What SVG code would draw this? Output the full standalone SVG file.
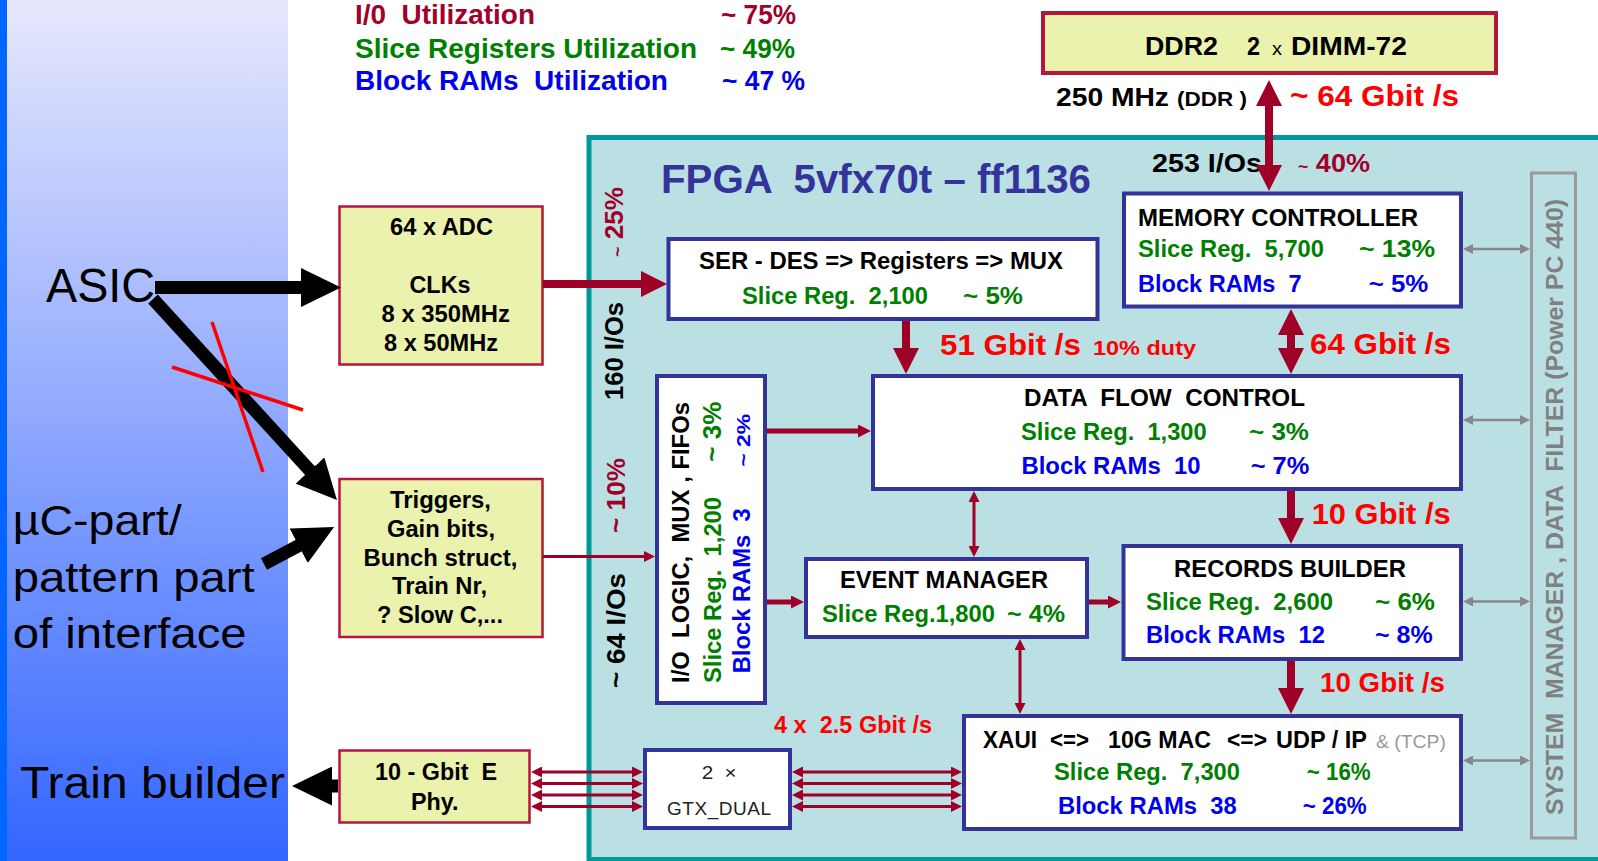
<svg xmlns="http://www.w3.org/2000/svg" width="1598" height="861" viewBox="0 0 1598 861" xml:space="preserve">
<defs>
<linearGradient id="panelGrad" x1="0" y1="0" x2="0" y2="1"><stop offset="0" stop-color="#E7E8FD"/><stop offset="1" stop-color="#3366FF"/></linearGradient>
<marker id="mBig" viewBox="0 0 26 26" markerWidth="26" markerHeight="26" refX="12" refY="13" markerUnits="userSpaceOnUse" orient="auto-start-reverse"><path d="M0,0 L26,13 L0,26 z" fill="#9E0028"/></marker>
<marker id="mMed" viewBox="0 0 13 13" markerWidth="13" markerHeight="13" refX="5" refY="6.5" markerUnits="userSpaceOnUse" orient="auto-start-reverse"><path d="M0,0 L13,6.5 L0,13 z" fill="#9E0028"/></marker>
<marker id="mSm" viewBox="0 0 11 11" markerWidth="11" markerHeight="11" refX="4" refY="5.5" markerUnits="userSpaceOnUse" orient="auto-start-reverse"><path d="M0,0 L11,5.5 L0,11 z" fill="#9E0028"/></marker>
<marker id="mGray" viewBox="0 0 10 10" markerWidth="10" markerHeight="10" refX="4" refY="5" markerUnits="userSpaceOnUse" orient="auto-start-reverse"><path d="M0,0 L10,5 L0,10 z" fill="#888888"/></marker>
<marker id="mBlk" viewBox="0 0 40 39" markerWidth="40" markerHeight="39" refX="18" refY="19.5" markerUnits="userSpaceOnUse" orient="auto-start-reverse"><path d="M0,0 L40,19.5 L0,39 z" fill="#000000"/></marker>
</defs>
<style>
text{font-family:"Liberation Sans",Arial,Helvetica,sans-serif;fill:#000;white-space:pre}
.b{font-weight:bold}
.g{fill:#008000}
.u{fill:#0000EE}
.r{fill:#FF0000}
.dr{fill:#A0002A}
.gr{fill:#808080}
.f23{font-size:23px}
.f25{font-size:25px}
.f26{font-size:26px}
.f27{font-size:27px}
.f30{font-size:30px}
.yb{fill:#EAF2AE;stroke:#B4163C;stroke-width:2.5}
.wb{fill:#FFFFFF;stroke:#333399;stroke-width:4}
.c8{stroke:#9E0028;stroke-width:8;fill:none}
.c5{stroke:#9E0028;stroke-width:5;fill:none}
.c3{stroke:#9E0028;stroke-width:3;fill:none}
.cg{stroke:#888888;stroke-width:2.5;fill:none}
.ck{stroke:#000000;stroke-width:13;fill:none}
</style>

<g id="background">
<rect x="0" y="0" width="1598" height="861" fill="#FFFFFF"/>
<rect x="7" y="0" width="281" height="861" fill="url(#panelGrad)"/>
<rect x="0" y="0" width="7" height="861" fill="#0066FF"/>
</g>

<g id="legend">
<text class="b dr f27" x="355" y="24" textLength="180" lengthAdjust="spacingAndGlyphs">I/0  Utilization</text>
<text class="b g f27" x="355" y="58" textLength="342" lengthAdjust="spacingAndGlyphs">Slice Registers Utilization</text>
<text class="b u f27" x="355" y="90" textLength="313" lengthAdjust="spacingAndGlyphs">Block RAMs  Utilization</text>
<text class="b dr f27" x="721" y="24" textLength="75" lengthAdjust="spacingAndGlyphs">~ 75%</text>
<text class="b g f27" x="720" y="58" textLength="75" lengthAdjust="spacingAndGlyphs">~ 49%</text>
<text class="b u f27" x="722" y="90" textLength="83" lengthAdjust="spacingAndGlyphs">~ 47 %</text>
</g>

<g id="fpga">
<rect x="589" y="137.5" width="1100" height="722" fill="#BBE0E3" stroke="#009999" stroke-width="5"/>
<text class="b" x="661" y="193" font-size="40" style="fill:#333399" textLength="430" lengthAdjust="spacingAndGlyphs">FPGA  5vfx70t – ff1136</text>
<text class="b dr f25" transform="translate(623,257) rotate(-90)" textLength="70" lengthAdjust="spacingAndGlyphs"><tspan font-size="17">~</tspan> 25%</text>
<text class="b f25" transform="translate(623,400) rotate(-90)" textLength="98" lengthAdjust="spacingAndGlyphs">160 I/Os</text>
<text class="b dr f25" transform="translate(625,533) rotate(-90)" textLength="75" lengthAdjust="spacingAndGlyphs">~ 10%</text>
<text class="b f25" transform="translate(625,688) rotate(-90)" textLength="115" lengthAdjust="spacingAndGlyphs">~ 64 I/Os</text>
<text class="b f26" x="1152" y="172" textLength="110" lengthAdjust="spacingAndGlyphs">253 I/Os</text>
<text class="b dr f26" x="1298" y="172" textLength="72" lengthAdjust="spacingAndGlyphs"><tspan font-size="17">~</tspan> 40%</text>
</g>

<g id="ddr2">
<rect x="1043" y="13" width="453" height="60" fill="#EAF2AE" stroke="#B4163C" stroke-width="4"/>
<text class="b f26" x="1145" y="55" textLength="73" lengthAdjust="spacingAndGlyphs">DDR2</text>
<text class="b f26" x="1247" y="55" textLength="13" lengthAdjust="spacingAndGlyphs">2</text>
<text x="1272" y="55" font-size="18" textLength="10" lengthAdjust="spacingAndGlyphs">x</text>
<text class="b f26" x="1291" y="55" textLength="116" lengthAdjust="spacingAndGlyphs">DIMM-72</text>
<text class="b f26" x="1056" y="106" textLength="113" lengthAdjust="spacingAndGlyphs">250 MHz</text>
<text class="b" x="1177" y="106" font-size="20" textLength="70" lengthAdjust="spacingAndGlyphs">(DDR )</text>
<text class="b r f30" x="1290" y="106" textLength="169" lengthAdjust="spacingAndGlyphs">~ 64 Gbit /s</text>
</g>

<g id="adc">
<rect class="yb" x="339.5" y="206.5" width="203" height="158"/>
<text class="b f23" x="390" y="235" textLength="103" lengthAdjust="spacingAndGlyphs">64 x ADC</text>
<text class="b f23" x="409.5" y="293" textLength="61" lengthAdjust="spacingAndGlyphs">CLKs</text>
<text class="b f23" x="381.5" y="321.7" textLength="128.5" lengthAdjust="spacingAndGlyphs">8 x 350MHz</text>
<text class="b f23" x="384" y="350.7" textLength="114" lengthAdjust="spacingAndGlyphs">8 x 50MHz</text>
</g>

<g id="triggers">
<rect class="yb" x="339.5" y="479" width="203" height="158"/>
<text class="b f23" x="390" y="508.3" textLength="101" lengthAdjust="spacingAndGlyphs">Triggers,</text>
<text class="b f23" x="387" y="536.7" textLength="108" lengthAdjust="spacingAndGlyphs">Gain bits,</text>
<text class="b f23" x="363.6" y="566" textLength="153.8" lengthAdjust="spacingAndGlyphs">Bunch struct,</text>
<text class="b f23" x="392" y="594.3" textLength="95" lengthAdjust="spacingAndGlyphs">Train Nr,</text>
<text class="b f23" x="377" y="623.3" textLength="126" lengthAdjust="spacingAndGlyphs">? Slow C,...</text>
</g>

<g id="phy">
<rect class="yb" x="339.5" y="750.5" width="190" height="72"/>
<text class="b f23" x="375" y="780" textLength="122" lengthAdjust="spacingAndGlyphs">10 - Gbit  E</text>
<text class="b f23" x="411" y="810" textLength="47.5" lengthAdjust="spacingAndGlyphs">Phy.</text>
</g>

<g id="serdes">
<rect class="wb" x="668.5" y="239" width="429" height="80"/>
<text class="b f23" x="699" y="269" textLength="364" lengthAdjust="spacingAndGlyphs">SER - DES =&gt; Registers =&gt; MUX</text>
<text class="b g f23" x="742" y="304" textLength="186" lengthAdjust="spacingAndGlyphs">Slice Reg.  2,100</text>
<text class="b g f23" x="963" y="304" textLength="60" lengthAdjust="spacingAndGlyphs">~ 5%</text>
</g>

<g id="memctrl">
<rect class="wb" x="1124" y="193.5" width="337" height="113"/>
<text class="b f23" x="1138" y="226" textLength="280" lengthAdjust="spacingAndGlyphs">MEMORY CONTROLLER</text>
<text class="b g f23" x="1138" y="257" textLength="186" lengthAdjust="spacingAndGlyphs">Slice Reg.  5,700</text>
<text class="b g f23" x="1359" y="257" textLength="76" lengthAdjust="spacingAndGlyphs">~ 13%</text>
<text class="b u f23" x="1138" y="291.7" textLength="163.6" lengthAdjust="spacingAndGlyphs">Block RAMs  7</text>
<text class="b u f23" x="1368.7" y="291.7" textLength="59.7" lengthAdjust="spacingAndGlyphs">~ 5%</text>
</g>

<g id="iologic">
<rect class="wb" x="657" y="376" width="108" height="327"/>
<text class="b f23" transform="translate(689,683) rotate(-90)" textLength="281" lengthAdjust="spacingAndGlyphs">I/O  LOGIC,  MUX , FIFOs</text>
<text class="b g f23" transform="translate(721,683) rotate(-90)" textLength="186" lengthAdjust="spacingAndGlyphs">Slice Reg.  1,200</text>
<text class="b g f25" transform="translate(721,461.7) rotate(-90)" textLength="60" lengthAdjust="spacingAndGlyphs">~ 3%</text>
<text class="b u f23" transform="translate(750,673.3) rotate(-90)" textLength="165" lengthAdjust="spacingAndGlyphs">Block RAMs  3</text>
<text class="b u" font-size="19" transform="translate(750,466.7) rotate(-90)" textLength="53" lengthAdjust="spacingAndGlyphs">~ 2%</text>
</g>

<g id="dataflow">
<rect class="wb" x="873" y="376" width="588" height="113"/>
<text class="b f23" x="1024" y="406" textLength="281" lengthAdjust="spacingAndGlyphs">DATA  FLOW  CONTROL</text>
<text class="b g f23" x="1021" y="440" textLength="185.7" lengthAdjust="spacingAndGlyphs">Slice Reg.  1,300</text>
<text class="b g f23" x="1249" y="440" textLength="60" lengthAdjust="spacingAndGlyphs">~ 3%</text>
<text class="b u f23" x="1021.5" y="473.5" textLength="179" lengthAdjust="spacingAndGlyphs">Block RAMs  10</text>
<text class="b u f23" x="1250.7" y="473.5" textLength="58.6" lengthAdjust="spacingAndGlyphs">~ 7%</text>
</g>

<g id="eventmgr">
<rect class="wb" x="806" y="559" width="281" height="78"/>
<text class="b f23" x="840" y="588" textLength="208" lengthAdjust="spacingAndGlyphs">EVENT MANAGER</text>
<text class="b g f23" x="822" y="621.7" textLength="173" lengthAdjust="spacingAndGlyphs">Slice Reg.1,800</text>
<text class="b g f23" x="1007" y="621.7" textLength="58" lengthAdjust="spacingAndGlyphs">~ 4%</text>
</g>

<g id="records">
<rect class="wb" x="1123.5" y="546" width="337.5" height="113"/>
<text class="b f23" x="1174" y="577" textLength="232" lengthAdjust="spacingAndGlyphs">RECORDS BUILDER</text>
<text class="b g f23" x="1146" y="610" textLength="187" lengthAdjust="spacingAndGlyphs">Slice Reg.  2,600</text>
<text class="b g f23" x="1375" y="610" textLength="60" lengthAdjust="spacingAndGlyphs">~ 6%</text>
<text class="b u f23" x="1146" y="643" textLength="179" lengthAdjust="spacingAndGlyphs">Block RAMs  12</text>
<text class="b u f23" x="1375" y="643" textLength="57.7" lengthAdjust="spacingAndGlyphs">~ 8%</text>
</g>

<g id="xaui">
<rect class="wb" x="964" y="716" width="497" height="113"/>
<text class="b f23" x="983" y="747.5" textLength="54" lengthAdjust="spacingAndGlyphs">XAUI</text>
<text class="b f23" x="1050" y="747.5" textLength="39" lengthAdjust="spacingAndGlyphs">&lt;=&gt;</text>
<text class="b f23" x="1108" y="747.5" textLength="103" lengthAdjust="spacingAndGlyphs">10G MAC</text>
<text class="b f23" x="1227" y="747.5" textLength="40" lengthAdjust="spacingAndGlyphs">&lt;=&gt;</text>
<text class="b f23" x="1276" y="747.5" textLength="91" lengthAdjust="spacingAndGlyphs">UDP / IP</text>
<text x="1376" y="747.5" font-size="18" style="fill:#999999" textLength="70" lengthAdjust="spacingAndGlyphs">&amp; (TCP)</text>
<text class="b g f23" x="1054" y="780" textLength="186" lengthAdjust="spacingAndGlyphs">Slice Reg.  7,300</text>
<text class="b g f23" x="1306.7" y="780" textLength="64" lengthAdjust="spacingAndGlyphs">~ 16%</text>
<text class="b u f23" x="1058" y="813.5" textLength="178.7" lengthAdjust="spacingAndGlyphs">Block RAMs  38</text>
<text class="b u f23" x="1302.7" y="813.5" textLength="64" lengthAdjust="spacingAndGlyphs">~ 26%</text>
</g>

<g id="gtx">
<rect class="wb" x="645" y="750" width="145" height="78"/>
<text x="701.7" y="779.3" font-size="19" style="fill:#222222" textLength="35" lengthAdjust="spacingAndGlyphs">2  ×</text>
<text x="667" y="815" font-size="19" style="fill:#222222" textLength="104" lengthAdjust="spacing">GTX_DUAL</text>
</g>

<g id="sysmgr">
<rect x="1531.5" y="173" width="44" height="665" fill="none" stroke="#9A9A9A" stroke-width="3"/>
<text class="b gr f23" transform="translate(1563,815) rotate(-90)" textLength="616" lengthAdjust="spacingAndGlyphs">SYSTEM  MANAGER , DATA  FILTER (Power PC 440)</text>
</g>

<g id="external-labels">
<text x="46" y="302" font-size="49" textLength="109" lengthAdjust="spacingAndGlyphs">ASIC</text>
<text x="12.7" y="535" font-size="42" textLength="169" lengthAdjust="spacingAndGlyphs">µC-part/</text>
<text x="12.7" y="591.7" font-size="42" textLength="242" lengthAdjust="spacingAndGlyphs">pattern part</text>
<text x="12.7" y="648.3" font-size="42" textLength="234" lengthAdjust="spacingAndGlyphs">of interface</text>
<text x="20" y="798" font-size="44" textLength="265" lengthAdjust="spacingAndGlyphs">Train builder</text>
</g>

<g id="connector-labels">
<text class="b r f30" x="940" y="355" textLength="141" lengthAdjust="spacingAndGlyphs">51 Gbit /s</text>
<text class="b r" x="1093" y="355" font-size="21" textLength="103" lengthAdjust="spacingAndGlyphs">10% duty</text>
<text class="b r f30" x="1310" y="354" textLength="141" lengthAdjust="spacingAndGlyphs">64 Gbit /s</text>
<text class="b r f30" x="1311.7" y="524" textLength="139" lengthAdjust="spacingAndGlyphs">10 Gbit /s</text>
<text class="b r f27" x="1320" y="691.7" textLength="125" lengthAdjust="spacingAndGlyphs">10 Gbit /s</text>
<text class="b r f23" x="774" y="733.3" textLength="158" lengthAdjust="spacingAndGlyphs">4 x  2.5 Gbit /s</text>
</g>

<g id="connectors">
<g class="c8">
<line x1="543" y1="284" x2="653" y2="284" marker-end="url(#mBig)"/>
<line x1="1269" y1="94" x2="1269" y2="177" marker-start="url(#mBig)" marker-end="url(#mBig)"/>
<line x1="906" y1="321" x2="906" y2="360" marker-end="url(#mBig)"/>
<line x1="1291" y1="323" x2="1291" y2="360" marker-start="url(#mBig)" marker-end="url(#mBig)"/>
<line x1="1291" y1="491" x2="1291" y2="530" marker-end="url(#mBig)"/>
<line x1="1291" y1="661" x2="1291" y2="700" marker-end="url(#mBig)"/>
</g>
<g class="c5">
<line x1="767" y1="431" x2="863" y2="431" marker-end="url(#mMed)"/>
<line x1="767" y1="602" x2="796" y2="602" marker-end="url(#mMed)"/>
<line x1="1089" y1="602" x2="1113" y2="602" marker-end="url(#mMed)"/>
</g>
<g class="c3">
<line x1="543" y1="556.5" x2="648" y2="556.5" marker-end="url(#mSm)"/>
<line x1="974" y1="498" x2="974" y2="550" marker-start="url(#mSm)" marker-end="url(#mSm)"/>
<line x1="1020" y1="646" x2="1020" y2="707" marker-start="url(#mSm)" marker-end="url(#mSm)"/>
<line x1="799" y1="772" x2="955" y2="772" marker-start="url(#mSm)" marker-end="url(#mSm)"/>
<line x1="799" y1="783.5" x2="955" y2="783.5" marker-start="url(#mSm)" marker-end="url(#mSm)"/>
<line x1="799" y1="795" x2="955" y2="795" marker-start="url(#mSm)" marker-end="url(#mSm)"/>
<line x1="799" y1="806.5" x2="955" y2="806.5" marker-start="url(#mSm)" marker-end="url(#mSm)"/>
<line x1="538" y1="772" x2="636" y2="772" marker-start="url(#mSm)" marker-end="url(#mSm)"/>
<line x1="538" y1="783.5" x2="636" y2="783.5" marker-start="url(#mSm)" marker-end="url(#mSm)"/>
<line x1="538" y1="795" x2="636" y2="795" marker-start="url(#mSm)" marker-end="url(#mSm)"/>
<line x1="538" y1="806.5" x2="636" y2="806.5" marker-start="url(#mSm)" marker-end="url(#mSm)"/>
</g>
<g class="cg">
<line x1="1469" y1="249" x2="1524" y2="249" marker-start="url(#mGray)" marker-end="url(#mGray)"/>
<line x1="1469" y1="420" x2="1524" y2="420" marker-start="url(#mGray)" marker-end="url(#mGray)"/>
<line x1="1469" y1="601.5" x2="1524" y2="601.5" marker-start="url(#mGray)" marker-end="url(#mGray)"/>
<line x1="1469" y1="760.5" x2="1524" y2="760.5" marker-start="url(#mGray)" marker-end="url(#mGray)"/>
</g>
<g class="ck">
<line x1="155" y1="287.5" x2="319" y2="287.5" marker-end="url(#mBlk)"/>
<line x1="153" y1="299" x2="322.1" y2="483.8" marker-end="url(#mBlk)"/>
<line x1="264" y1="564" x2="314.6" y2="537.3" marker-end="url(#mBlk)"/>
<line x1="338" y1="786" x2="314" y2="786" marker-end="url(#mBlk)"/>
</g>
<g stroke="#FF0000" stroke-width="3.5">
<line x1="212" y1="322" x2="263" y2="472"/>
<line x1="172" y1="367" x2="303" y2="410"/>
</g>
</g>
</svg>
